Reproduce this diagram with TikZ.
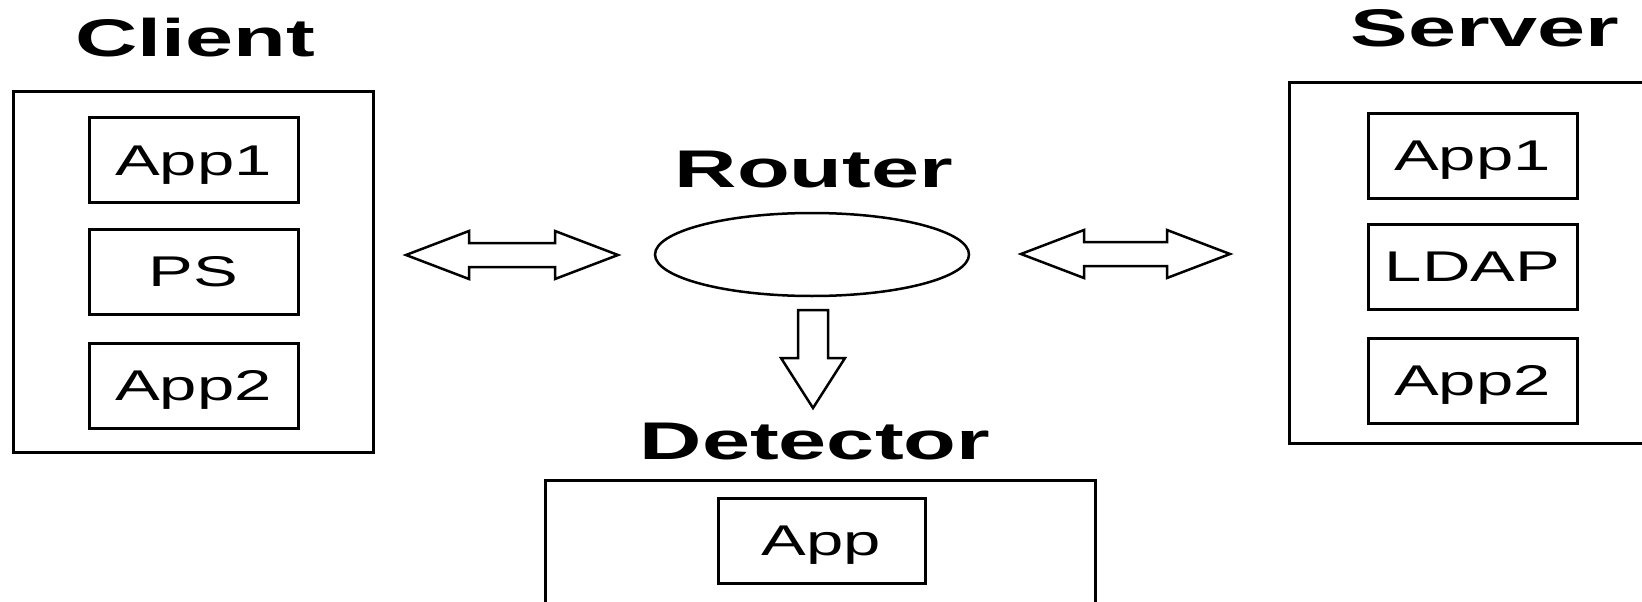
\documentclass[tikz,border=0pt]{standalone}
\usepackage{fontspec}
\setmainfont{Liberation Sans}
\usepackage{graphicx}
\usetikzlibrary{calc,shapes.geometric}
\newcommand\widetxt[1]{\scalebox{1.56}[1]{#1}}
\newcommand\widetitle[1]{\scalebox{1.63}[1]{#1}}
\newcommand\dblarr[2]{%
  \draw[blockarrow] (#1) -- ($(#1)+(63,-24)$) -- ($(#1)+(63,-12)$) -- ($(#2)+(-63,-12)$)
    -- ($(#2)+(-63,-24)$) -- (#2) -- ($(#2)+(-63,24)$) -- ($(#2)+(-63,12)$)
    -- ($(#1)+(63,12)$) -- ($(#1)+(63,24)$) -- cycle;}
\begin{document}
\begin{tikzpicture}[x=1pt,y=-1pt,
  outerbox/.style={draw, line width=3pt, inner sep=0pt},
  appbox/.style={draw, line width=3pt, minimum width=209pt, minimum height=85pt,
    inner sep=0pt, text height=30pt, text depth=0pt, font=\fontsize{43}{50}\selectfont},
  titletxt/.style={anchor=base, inner sep=0pt, font=\fontsize{53}{60}\selectfont\bfseries},
  blockarrow/.style={draw, line width=2.5pt, line join=miter, fill=white}]
\useasboundingbox (0,0) rectangle (1642,602);
\clip (0,0) rectangle (1642,602);
\fill[white] (0,0) rectangle (1642,602);

% Client
\node[titletxt] (clientT) at (195,57) {\widetitle{Client}};
\node[outerbox, minimum width=360pt, minimum height=360pt] (client) at (193,272) {};
\node[appbox] (capp1) at (193.5,160) {\widetxt{App1}};
\node[appbox] (cps) at (193.5,271.5) {\widetxt{PS}};
\node[appbox] (capp2) at (193.5,385.5) {\widetxt{App2}};

% Server
\node[titletxt] (serverT) at (1485,47) {\widetitle{Server}};
\node[outerbox, minimum width=360pt, minimum height=360pt] (server) at (1469,263) {};
\node[appbox] (sapp1) at (1472.5,155.5) {\widetxt{App1}};
\node[appbox] (sldap) at (1472.5,266.5) {\widetxt{LDAP}};
\node[appbox] (sapp2) at (1472.5,380.5) {\widetxt{App2}};

% Router
\node[titletxt] (routerT) at (814,187) {\widetitle{Router}};
\node[draw, ellipse, line width=2.5pt, minimum width=314pt, minimum height=83pt, inner sep=0pt] (router) at (812,254.5) {};

% Detector
\node[titletxt] (detectorT) at (815,459) {\widetitle{Detector}};
\node[outerbox, minimum width=550pt, minimum height=240pt] (detector) at (820,600) {};
\node[appbox, minimum width=207pt] (dapp) at (821.5,540.5) {\widetxt{App}};

% Arrows
\coordinate (la) at (406,255);
\coordinate (lb) at (618,255);
\dblarr{la}{lb}
\coordinate (ra) at (1021,254);
\coordinate (rb) at (1230,254);
\dblarr{ra}{rb}
\coordinate (dt) at (813,310);
\coordinate (dtip) at (813,408);
\draw[blockarrow] ($(dt)+(-15,0)$) -- ($(dt)+(15,0)$) -- ($(dt)+(15,48)$) -- ($(dt)+(32,48)$)
  -- (dtip) -- ($(dt)+(-32,48)$) -- ($(dt)+(-15,48)$) -- cycle;
\end{tikzpicture}
\end{document}
